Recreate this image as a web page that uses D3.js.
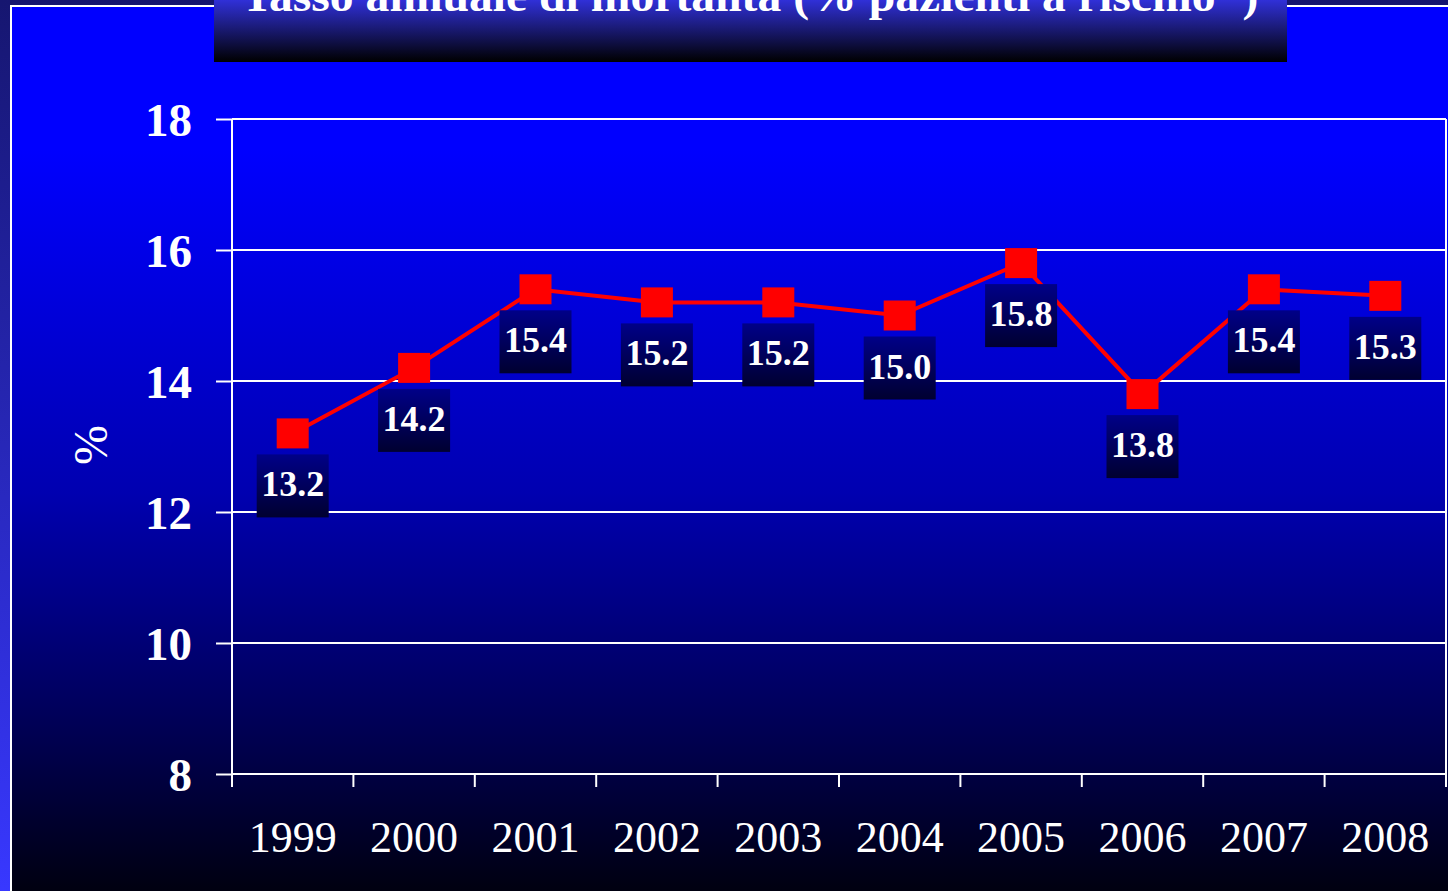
<!DOCTYPE html>
<html><head><meta charset="utf-8">
<script src="https://cdn.jsdelivr.net/npm/d3@7"></script>
<style>html,body{margin:0;padding:0;background:#161670;}svg{display:block;}</style>
</head><body>
<script>
const years = ["1999","2000","2001","2002","2003","2004","2005","2006","2007","2008"];
const values = [13.2, 14.2, 15.4, 15.2, 15.2, 15.0, 15.8, 13.8, 15.4, 15.3];
const labels = ["13.2","14.2","15.4","15.2","15.2","15.0","15.8","13.8","15.4","15.3"];
const yTicks = [8, 10, 12, 14, 16, 18];
const title = "Tasso annuale di mortalità (% pazienti a rischio";
const yTitle = "%";

const W = 1448, H = 891;
const svg = d3.select("body").append("svg").attr("width", W).attr("height", H);
const defs = svg.append("defs");

const gOuter = defs.append("linearGradient").attr("id","gOuter").attr("x1",0).attr("y1",0).attr("x2",0).attr("y2",1);
gOuter.append("stop").attr("offset","0%").attr("stop-color","#161670");
gOuter.append("stop").attr("offset","100%").attr("stop-color","#3838ff");

const gBg = defs.append("linearGradient").attr("id","gBg").attr("x1",0).attr("y1",0).attr("x2",0).attr("y2",1);
gBg.append("stop").attr("offset","0%").attr("stop-color","#0000ff");
gBg.append("stop").attr("offset","16%").attr("stop-color","#0000ff");
gBg.append("stop").attr("offset","55%").attr("stop-color","#0000b0");
gBg.append("stop").attr("offset","85%").attr("stop-color","#000048");
gBg.append("stop").attr("offset","100%").attr("stop-color","#000010");

const gTitle = defs.append("linearGradient").attr("id","gTitle").attr("x1",0).attr("y1",0).attr("x2",0).attr("y2",1);
gTitle.append("stop").attr("offset","0%").attr("stop-color","#3030d8");
gTitle.append("stop").attr("offset","100%").attr("stop-color","#000000");

const gLab = defs.append("linearGradient").attr("id","gLab").attr("x1",0).attr("y1",0).attr("x2",0).attr("y2",1);
gLab.append("stop").attr("offset","0%").attr("stop-color","#000088");
gLab.append("stop").attr("offset","100%").attr("stop-color","#000030");

// backgrounds
svg.append("rect").attr("width",W).attr("height",H).attr("fill","url(#gOuter)");
svg.append("rect").attr("x",10).attr("y",5).attr("width",W-10).attr("height",H-5).attr("fill","#ffffff");
svg.append("rect").attr("x",12).attr("y",7).attr("width",W-12).attr("height",H-7).attr("fill","url(#gBg)");

// title box
svg.append("rect").attr("x",214).attr("y",0).attr("width",1073).attr("height",62).attr("fill","url(#gTitle)");
const t = svg.append("text").attr("x",750).attr("y",11).attr("text-anchor","middle")
  .attr("font-family","'Liberation Serif','Times New Roman',serif").attr("font-weight","bold")
  .attr("font-size",44).attr("fill","#ffffff")
  .attr("textLength",1017).attr("lengthAdjust","spacingAndGlyphs");
t.append("tspan").text(title);
t.append("tspan").attr("dy",-18).attr("font-size",28).text("*");
t.append("tspan").attr("dy",18).text(" )");

// scales
const x = d3.scaleBand().domain(years).range([232, 1446]);
const y = d3.scaleLinear().domain([8, 18]).range([774, 119]);

// gridlines
svg.append("g").selectAll("line").data(yTicks.filter(d => d !== 8)).join("line")
  .attr("x1",232).attr("x2",1446).attr("y1",d=>y(d)).attr("y2",d=>y(d))
  .attr("stroke","#ffffff").attr("stroke-width",2);
// right border
svg.append("line").attr("x1",1446).attr("x2",1446).attr("y1",y(18)).attr("y2",787)
  .attr("stroke","#ffffff").attr("stroke-width",2);

// y axis
const yAxis = svg.append("g").attr("transform","translate(232,0)")
  .call(d3.axisLeft(y).tickValues(yTicks).tickSize(16).tickPadding(24).tickFormat(d3.format("d")));
yAxis.select(".domain").attr("stroke","#ffffff").attr("stroke-width",2).attr("d","M0,119V787");
yAxis.selectAll(".tick line").attr("stroke","#ffffff").attr("stroke-width",2);
yAxis.selectAll(".tick text").attr("fill","#ffffff").attr("font-size",47).attr("font-weight","bold")
  .attr("font-family","'Liberation Serif','Times New Roman',serif").attr("dy","0.36em");

// x axis
const xAxis = svg.append("g").attr("transform","translate(0,774)")
  .call(d3.axisBottom(x).tickSize(0).tickPadding(0));
xAxis.select(".domain").remove();
xAxis.selectAll(".tick text").attr("fill","#ffffff").attr("font-size",44)
  .attr("font-family","'Liberation Serif','Times New Roman',serif").attr("dy",0).attr("y",78);
svg.append("line").attr("x1",232).attr("x2",1446).attr("y1",774).attr("y2",774)
  .attr("stroke","#ffffff").attr("stroke-width",2);
const edges = years.map(d => x(d)).concat([x.range()[1]]);
svg.append("g").selectAll("line").data(edges).join("line")
  .attr("x1",d=>d).attr("x2",d=>d).attr("y1",774).attr("y2",787)
  .attr("stroke","#ffffff").attr("stroke-width",2);

// y title
svg.append("text").attr("transform","translate(107,445) rotate(-90)").attr("text-anchor","middle")
  .attr("font-family","'Liberation Serif','Times New Roman',serif").attr("font-size",48)
  .attr("fill","#ffffff").text(yTitle);

// line
const cx = d => x(d) + x.bandwidth()/2;
const data = years.map((d,i) => ({year:d, v:values[i], lab:labels[i]}));
svg.append("path").datum(data)
  .attr("d", d3.line().x(d=>cx(d.year)).y(d=>y(d.v)))
  .attr("fill","none").attr("stroke","#ff0000").attr("stroke-width",4);

// markers
svg.append("g").selectAll("rect").data(data).join("rect")
  .attr("x",d=>cx(d.year)-16).attr("y",d=>y(d.v)-15).attr("width",32).attr("height",30)
  .attr("fill","#ff0000");

// labels
const lg = svg.append("g").selectAll("g").data(data).join("g")
  .attr("transform", d => `translate(${cx(d.year)},${y(d.v)+21})`);
lg.append("rect").attr("x",-36).attr("y",0).attr("width",72).attr("height",63).attr("fill","url(#gLab)");
lg.append("text").attr("x",0).attr("y",42).attr("text-anchor","middle")
  .attr("font-family","'Liberation Serif','Times New Roman',serif").attr("font-weight","bold")
  .attr("font-size",36).attr("fill","#ffffff").text(d=>d.lab);
</script>
</body></html>
